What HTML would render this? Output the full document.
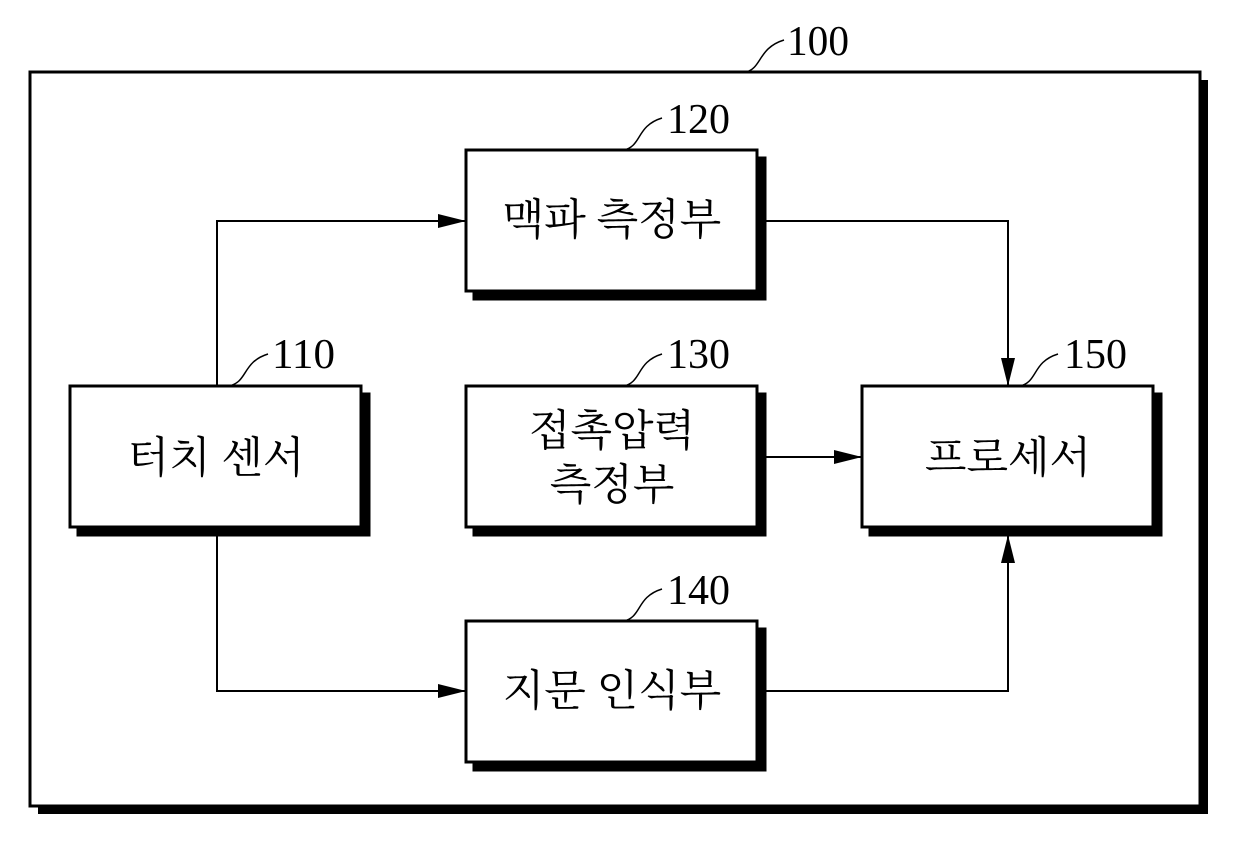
<!DOCTYPE html>
<html><head><meta charset="utf-8"><style>
html,body{margin:0;padding:0;background:#fff;}
svg{display:block;}
.k{font-family:"Liberation Serif","Noto Serif CJK SC","Noto Sans CJK KR",serif;font-size:43px;fill:#000;text-anchor:middle;dominant-baseline:central;}
.n{font-family:"Liberation Serif",serif;font-size:42px;fill:#000;}
</style></head><body>
<svg width="1240" height="848" viewBox="0 0 1240 848" xmlns="http://www.w3.org/2000/svg">
<defs><marker id="a" markerWidth="28" markerHeight="14" refX="28" refY="7" orient="auto" markerUnits="userSpaceOnUse"><path d="M0,0 L28,7 L0,14 Z" fill="#000"/></marker></defs>
<!-- outer -->
<rect x="38" y="80" width="1170" height="734" fill="#000"/>
<rect x="30" y="72" width="1170" height="734" fill="#fff" stroke="#000" stroke-width="3"/>
<!-- boxes with shadows -->
<g stroke="#000" stroke-width="3">
<rect x="474" y="158" width="291" height="141" fill="#000"/>
<rect x="466" y="150" width="291" height="141" fill="#fff"/>
<rect x="78" y="394" width="291" height="141" fill="#000"/>
<rect x="70" y="386" width="291" height="141" fill="#fff"/>
<rect x="474" y="394" width="291" height="141" fill="#000"/>
<rect x="466" y="386" width="291" height="141" fill="#fff"/>
<rect x="870" y="394" width="291" height="141" fill="#000"/>
<rect x="862" y="386" width="291" height="141" fill="#fff"/>
<rect x="474" y="629" width="291" height="141" fill="#000"/>
<rect x="466" y="621" width="291" height="141" fill="#fff"/>
</g>
<!-- connectors -->
<g stroke="#000" stroke-width="2" fill="none">
<path d="M217,386 V221 H466" marker-end="url(#a)"/>
<path d="M217,535 V691 H466" marker-end="url(#a)"/>
<path d="M765,221 H1008 V386" marker-end="url(#a)"/>
<path d="M765,457 H862" marker-end="url(#a)"/>
<path d="M765,691 H1008 V535" marker-end="url(#a)"/>
</g>
<!-- leaders -->
<g stroke="#000" stroke-width="1.5" fill="none">
<path d="M746,72 C762,68 758,48 784,40"/>
<path d="M624,150 C642,146 636,126 662,118"/>
<path d="M229,386 C248,382 242,362 268,354"/>
<path d="M624,386 C642,382 636,362 662,354"/>
<path d="M1020,386 C1038,382 1032,362 1058,354"/>
<path d="M624,621 C642,617 636,597 662,589"/>
</g>
<g class="n">
<text x="787" y="55" textLength="62" lengthAdjust="spacingAndGlyphs">100</text>
<text x="667" y="133" textLength="63" lengthAdjust="spacingAndGlyphs">120</text>
<text x="272" y="368" textLength="63" lengthAdjust="spacingAndGlyphs">110</text>
<text x="667" y="368" textLength="63" lengthAdjust="spacingAndGlyphs">130</text>
<text x="1064" y="368" textLength="63" lengthAdjust="spacingAndGlyphs">150</text>
<text x="667" y="604" textLength="63" lengthAdjust="spacingAndGlyphs">140</text>
</g>
<g class="k">
<text x="612" y="221">맥파 측정부</text>
<text x="216" y="459">터치 센서</text>
<text x="612" y="432">접촉압력</text>
<text x="612" y="486">측정부</text>
<text x="1008" y="459">프로세서</text>
<text x="612" y="692">지문 인식부</text>
</g>
</svg>
</body></html>
